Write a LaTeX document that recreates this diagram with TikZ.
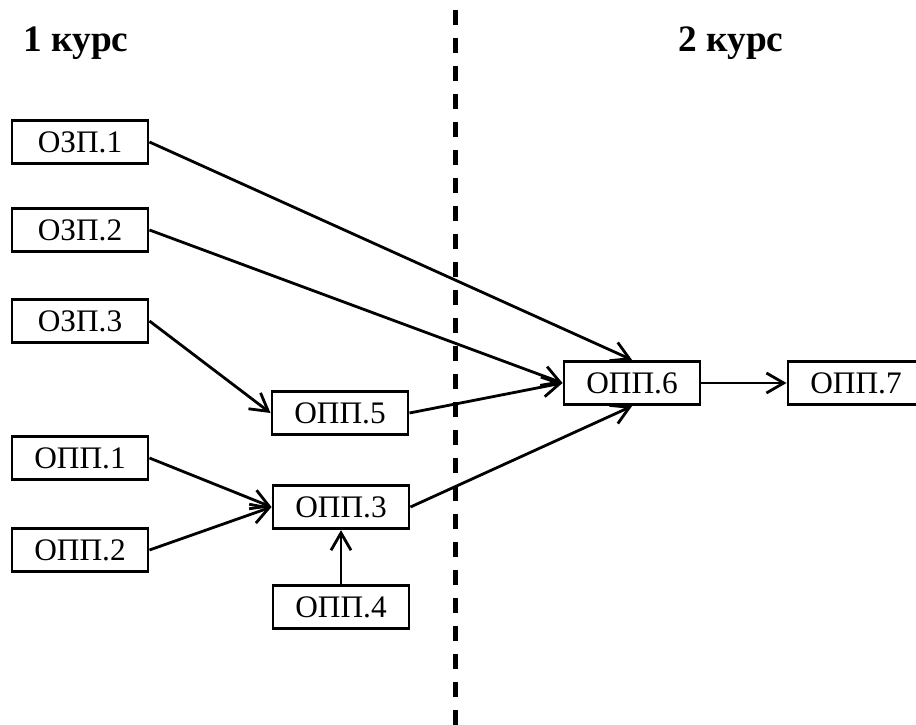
\documentclass[tikz,border=0pt]{standalone}
\usepackage{fontspec}
\setmainfont{Liberation Serif}
\usetikzlibrary{arrows.meta}
\tikzset{
  kbox/.style={draw, line width=2.2pt, inner sep=0pt, minimum width=102pt, minimum height=32.5pt, font=\fontsize{23.5}{27}\selectfont},
  arr/.style={line width=2.1pt, -{Straight Barb[length=13pt,width=15pt]}},
  kurs/.style={anchor=base, font=\fontsize{28}{32}\selectfont\bfseries}
}

\begin{document}
\begin{tikzpicture}[x=0.75pt, y=-0.75pt]
\useasboundingbox (0,0) rectangle (916,724);
\clip (0,0) rectangle (916,724);
\node[kurs] (k1) at (76,51) {1 курс};
\node[kurs] (k2) at (731,51) {2 курс};
\draw[line width=3.75pt, dash pattern=on 11.25pt off 9.75pt] (455,10) -- (455,740);
\node[kbox] (ozp1) at (80,142) {ОЗП.1};
\node[kbox] (ozp2) at (80,230) {ОЗП.2};
\node[kbox] (ozp3) at (80,321) {ОЗП.3};
\node[kbox] (opp1) at (80,458) {ОПП.1};
\node[kbox] (opp2) at (80,550) {ОПП.2};
\node[kbox] (opp5) at (340,413) {ОПП.5};
\node[kbox] (opp3) at (341,507) {ОПП.3};
\node[kbox] (opp4) at (341,607) {ОПП.4};
\node[kbox] (opp6) at (632,383) {ОПП.6};
\node[kbox] (opp7) at (856,383) {ОПП.7};
\draw[arr] (ozp1.east) -- (opp6.north);
\draw[arr] (ozp2.east) -- (opp6.west);
\draw[arr] (opp5.east) -- (opp6.west);
\draw[arr] (opp3.east) -- (opp6.south);
\draw[arr] (ozp3.east) -- (opp5.west);
\draw[arr] (opp1.east) -- (opp3.west);
\draw[arr] (opp2.east) -- (opp3.west);
\draw[arr] (opp4.north) -- (opp3.south);
\draw[arr] (opp6.east) -- (opp7.west);
\end{tikzpicture}
\end{document}
